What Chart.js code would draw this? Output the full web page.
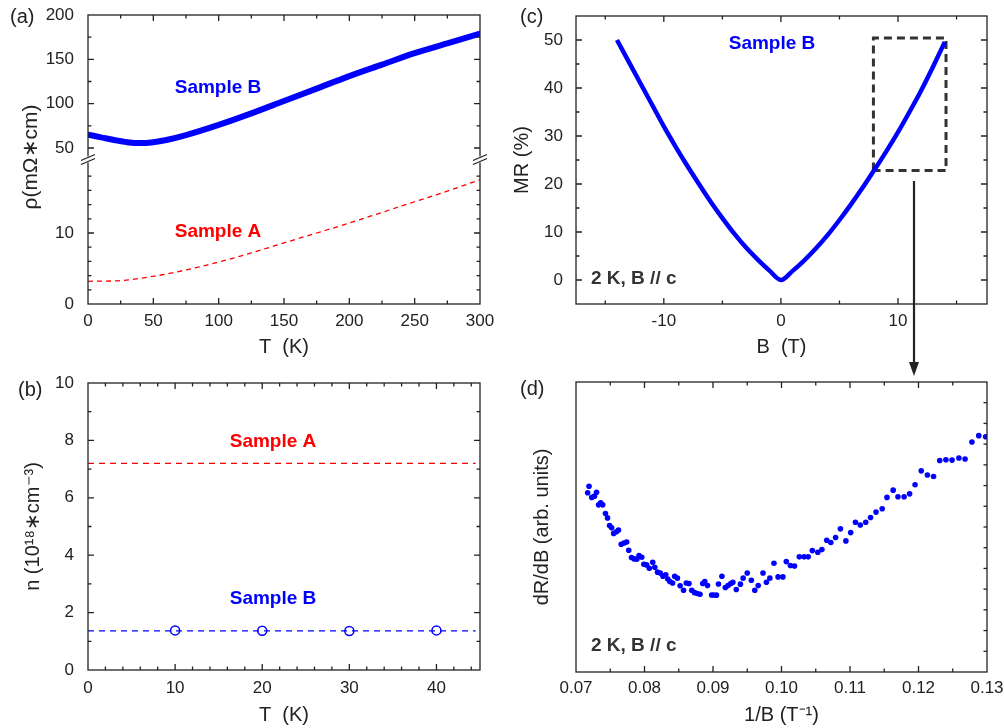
<!DOCTYPE html>
<html>
<head>
<meta charset="utf-8">
<script src="https://cdn.jsdelivr.net/npm/chart.js@4.4.1/dist/chart.umd.min.js"></script>
<style>
  body { margin: 0; background: #fff; }
  #fig { position: relative; width: 1004px; height: 728px; }
  canvas, svg { position: absolute; }
</style>
</head>
<body>
<div id="fig">
  <canvas id="chartA" width="500" height="360" style="left:0;top:0"></canvas>
  <canvas id="chartB" width="500" height="368" style="left:0;top:360px"></canvas>
  <canvas id="chartC" width="504" height="360" style="left:500px;top:0"></canvas>
  <canvas id="chartD" width="504" height="368" style="left:500px;top:360px"></canvas>
  <svg width="1004" height="728" style="left:0;top:0">
    <line x1="914" y1="181" x2="914" y2="364" stroke="#222" stroke-width="2.2"/>
    <polygon points="909,362 919,362 914,376" fill="#222"/>
  </svg>
</div>
<script>
// ==========================
// DATA
// ==========================
// (a) resistivity vs T
const tempA = [0, 25, 50, 75, 100, 125, 150, 175, 200, 225, 250, 275, 300];
const rhoA = [3.2, 3.3, 3.9, 4.8, 5.9, 7.2, 8.6, 10.0, 11.4, 12.9, 14.4, 15.9, 17.5];
const tempB = [0, 10, 20, 30, 40, 50, 60, 75, 100, 125, 150, 175, 200, 225, 250, 275, 300];
const rhoB = [65, 62, 59, 56.5, 55.5, 56.5, 59, 64.5, 76, 89, 103, 117, 131, 144, 157, 168, 179];

// (b) carrier density
const densT = [0, 44.5];
const densA = [7.2, 7.2];
const densB = [1.36, 1.36];
const hallT = [10, 20, 30, 40];
const hallB = [1.38, 1.37, 1.36, 1.38];

// (c) magnetoresistance
const fieldB = [-14, -13, -12, -11, -10, -9, -8, -7, -6, -5, -4, -3, -2, -1, 0,
  1, 2, 3, 4, 5, 6, 7, 8, 9, 10, 11, 12, 13, 14];
const mr = [50, 45.5, 41, 36.5, 32, 27.8, 23.8, 20, 16.3, 12.9, 9.7, 6.8, 4.3, 2.0, 0,
  1.9, 4.1, 6.6, 9.4, 12.5, 15.8, 19.3, 23, 26.8, 30.8, 35.1, 39.6, 44.5, 49.6];
const boxB = [7.9, 7.9, 14.1, 14.1, 7.9];
const boxMR = [22.8, 50.4, 50.4, 22.8, 22.8];

// (d) dR/dB vs 1/B
const invB = [0.0717, 0.0719, 0.0723, 0.0727, 0.0730, 0.0733, 0.0736, 0.0739, 0.0743, 0.0746,
  0.0749, 0.0752, 0.0755, 0.0759, 0.0762, 0.0766, 0.0770, 0.0774, 0.0777, 0.0781,
  0.0785, 0.0789, 0.0792, 0.0796, 0.0799, 0.0803, 0.0807, 0.0812, 0.0815, 0.0819,
  0.0823, 0.0827, 0.0831, 0.0834, 0.0837, 0.0841, 0.0844, 0.0848, 0.0852, 0.0857,
  0.0861, 0.0865, 0.0869, 0.0873, 0.0877, 0.0881, 0.0885, 0.0888, 0.0892, 0.0898,
  0.0901, 0.0905, 0.0908, 0.0913, 0.0918, 0.0922, 0.0926, 0.0929, 0.0934, 0.0940,
  0.0944, 0.0950, 0.0956, 0.0961, 0.0966, 0.0973, 0.0978, 0.0983, 0.0989, 0.0995,
  0.1002, 0.1007, 0.1013, 0.1019, 0.1026, 0.1033, 0.1039, 0.1045, 0.1053, 0.1059,
  0.1066, 0.1072, 0.1079, 0.1086, 0.1094, 0.1101, 0.1108, 0.1115, 0.1123, 0.1130,
  0.1138, 0.1147, 0.1154, 0.1163, 0.1170, 0.1179, 0.1187, 0.1195, 0.1204, 0.1213,
  0.1222, 0.1231, 0.1240, 0.1249, 0.1259, 0.1268, 0.1278, 0.1288, 0.1298];
const dRdB = [8.65, 8.97, 8.43, 8.49, 8.68, 8.07, 8.17, 8.07, 7.65, 7.44,
  7.07, 6.96, 6.69, 6.77, 6.85, 6.17, 6.23, 6.27, 5.88, 5.53,
  5.46, 5.45, 5.62, 5.54, 5.20, 5.17, 5.01, 5.30, 5.06, 4.82,
  4.78, 4.62, 4.69, 4.49, 4.37, 4.30, 4.62, 4.53, 4.16, 3.95,
  4.30, 4.27, 3.95, 3.83, 3.79, 3.75, 4.27, 4.37, 4.17, 3.72,
  3.72, 3.71, 4.25, 4.62, 4.08, 4.17, 4.27, 4.33, 3.98, 4.24,
  4.53, 4.78, 4.43, 3.95, 4.17, 4.78, 4.33, 4.53, 5.25, 4.59,
  4.59, 5.33, 5.14, 5.12, 5.56, 5.56, 5.56, 5.86, 5.78, 5.91,
  6.36, 6.25, 6.49, 6.91, 6.33, 6.73, 7.23, 7.10, 7.23, 7.46,
  7.72, 7.88, 8.43, 8.78, 8.46, 8.46, 8.60, 9.04, 9.71, 9.51,
  9.44, 10.21, 10.25, 10.23, 10.33, 10.28, 11.10, 11.41, 11.36];

// ==========================
// HELPER
// ==========================
const FONT = "'Liberation Sans', Arial, sans-serif";
const BLUE = "#0000ff";
const RED = "#ff0000";
const INK = "#222";

Chart.defaults.font.family = FONT;
Chart.defaults.font.size = 17;
Chart.defaults.color = INK;
Chart.defaults.animation = false;
Chart.defaults.plugins.legend.display = false;
Chart.defaults.plugins.tooltip.enabled = false;

const pts = (xs, ys) => xs.map((x, i) => ({ x, y: ys[i] }));

function axis(opts) {
  const { min, max, step, label, pad, size, side, title, titlePad } = opts;
  const horiz = side === "x";
  return {
    type: "linear",
    position: horiz ? "bottom" : "left",
    min, max,
    grid: { display: false, drawTicks: false },
    border: { display: false },
    ticks: {
      stepSize: step,
      autoSkip: false,
      includeBounds: false,
      maxRotation: 0,
      padding: pad,
      callback: label,
    },
    title: title
      ? { display: true, text: title, font: { size: 20 }, padding: horiz ? { top: 0, bottom: titlePad } : { top: titlePad, bottom: 0 } }
      : { display: false },
    afterFit: s => {
      if (horiz) s.height = size; else s.width = size;
      // layout padding alone decides the plot box
      s.paddingTop = 0; s.paddingBottom = 0; s.paddingLeft = 0; s.paddingRight = 0;
    },
  };
}

// frame, inward ticks, axis break and free text
const framePlugin = {
  id: "frame",
  afterDraw(chart, args, opts) {
    const { ctx, chartArea: a } = chart;
    ctx.save();
    ctx.strokeStyle = INK;
    ctx.lineWidth = 1.3;
    ctx.strokeRect(a.left, a.top, a.right - a.left, a.bottom - a.top);

    Object.values(chart.scales).forEach(s => {
      const horiz = s.isHorizontal();
      const lo = horiz ? s.left : s.top;
      const hi = horiz ? s.right : s.bottom;
      s.ticks.forEach(t => {
        const p = s.getPixelForValue(t.value);
        if (p < lo + 4 || p > hi - 4) return;
        const len = t.label === "" ? 3.5 : 6;
        ctx.beginPath();
        if (horiz) {
          ctx.moveTo(p, a.bottom); ctx.lineTo(p, a.bottom - len);
          ctx.moveTo(p, a.top); ctx.lineTo(p, a.top + len);
        } else {
          if (!opts.noLeftTicks) { ctx.moveTo(a.left, p); ctx.lineTo(a.left + len, p); }
          ctx.moveTo(a.right, p); ctx.lineTo(a.right - len, p);
        }
        ctx.stroke();
      });
    });

    if (opts.breakScale) {
      const y = chart.scales[opts.breakScale].top;
      [a.left, a.right].forEach(x => {
        ctx.fillStyle = "#fff";
        ctx.fillRect(x - 2, y - 3, 4, 6);
        ctx.beginPath();
        ctx.moveTo(x - 7, y + 1); ctx.lineTo(x + 7, y - 5);
        ctx.moveTo(x - 7, y + 5); ctx.lineTo(x + 7, y - 1);
        ctx.stroke();
      });
    }

    (opts.texts || []).forEach(t => {
      ctx.save();
      ctx.font = t.font;
      ctx.fillStyle = t.color || INK;
      ctx.textAlign = t.align || "center";
      ctx.textBaseline = "middle";
      ctx.translate(t.x, t.y);
      if (t.rotate) ctx.rotate(t.rotate);
      ctx.fillText(t.text, 0, 0);
      ctx.restore();
    });
    ctx.restore();
  },
};

const bold = `bold 19px ${FONT}`;
const plain = `20px ${FONT}`;

// ==========================
// (a) RESISTIVITY
// ==========================
const axA = axis({ side: "x", min: 0, max: 300, step: 25, pad: 7, size: 56, title: "T  (K)", titlePad: 1,
  label: v => v % 50 === 0 ? v : "" });
const yLow = axis({ side: "y", min: 0, max: 20.35, step: 2, pad: 14, size: 88,
  label: v => (v === 0 || v === 10) ? v : "" });
const yHigh = axis({ side: "y", min: 37, max: 200, step: 25, pad: 14, size: 88,
  label: v => v % 50 === 0 ? v : "" });
yLow.stack = "rho"; yLow.stackWeight = 1;
yHigh.stack = "rho"; yHigh.stackWeight = 1;

new Chart(document.getElementById("chartA"), {
  type: "scatter",
  data: {
    datasets: [
      { data: pts(tempB, rhoB), yAxisID: "yHigh", showLine: true, borderColor: BLUE, borderWidth: 6,
        borderCapStyle: "round", pointRadius: 0, cubicInterpolationMode: "monotone" },
      { data: pts(tempA, rhoA), yAxisID: "yLow", showLine: true, borderColor: RED, borderWidth: 1.3,
        borderDash: [5, 4], pointRadius: 0, cubicInterpolationMode: "monotone" },
    ],
  },
  options: {
    responsive: false,
    layout: { padding: { top: 15, right: 20, left: 0, bottom: 0 } },
    // later scale in the stack is placed on top
    scales: { x: axA, yLow: yLow, yHigh: yHigh },
    plugins: {
      frame: {
        breakScale: "yLow",
        texts: [
          { text: "Sample B", x: 218, y: 88, color: BLUE, font: bold },
          { text: "Sample A", x: 218, y: 232, color: RED, font: bold },
          { text: "(a)", x: 10, y: 17, font: plain, align: "left" },
          { text: "ρ(mΩ∗cm)", x: 31, y: 157, font: `21px ${FONT}`, rotate: -Math.PI / 2 },
        ],
      },
    },
  },
  plugins: [framePlugin],
});

// ==========================
// (b) CARRIER DENSITY
// ==========================
new Chart(document.getElementById("chartB"), {
  type: "scatter",
  data: {
    datasets: [
      { data: pts(densT, densA), showLine: true, borderColor: RED, borderWidth: 1.3, borderDash: [6, 5], pointRadius: 0 },
      { data: pts(densT, densB), showLine: true, borderColor: BLUE, borderWidth: 1.3, borderDash: [6, 5], pointRadius: 0 },
      { data: pts(hallT, hallB), showLine: false, pointRadius: 4.5, pointBorderWidth: 1.5,
        borderColor: BLUE, backgroundColor: "rgba(255,255,255,0)" },
    ],
  },
  options: {
    responsive: false,
    layout: { padding: { top: 23, right: 20, left: 0, bottom: 0 } },
    scales: {
      x: axis({ side: "x", min: 0, max: 45, step: 2, pad: 8, size: 58, title: "T  (K)", titlePad: 1,
        label: v => v % 10 === 0 ? v : "" }),
      y: axis({ side: "y", min: 0, max: 10, step: 1, pad: 14, size: 88, title: "n (10¹⁸∗cm⁻³)", titlePad: 21,
        label: v => v % 2 === 0 ? v : "" }),
    },
    plugins: {
      frame: {
        texts: [
          { text: "Sample A", x: 273, y: 82, color: RED, font: bold },
          { text: "Sample B", x: 273, y: 239, color: BLUE, font: bold },
          { text: "(b)", x: 18, y: 30, font: plain, align: "left" },
        ],
      },
    },
  },
  plugins: [framePlugin],
});

// ==========================
// (c) MAGNETORESISTANCE
// ==========================
new Chart(document.getElementById("chartC"), {
  type: "scatter",
  data: {
    datasets: [
      { data: pts(fieldB, mr), showLine: true, borderColor: BLUE, borderWidth: 4.5, pointRadius: 0,
        borderJoinStyle: "round", cubicInterpolationMode: "monotone" },
      { data: pts(boxB, boxMR), showLine: true, borderColor: "#333", borderWidth: 3, borderDash: [8, 5], pointRadius: 0 },
    ],
  },
  options: {
    responsive: false,
    layout: { padding: { top: 16, right: 17, left: 0, bottom: 0 } },
    scales: {
      x: axis({ side: "x", min: -17.5, max: 17.6, step: 5, pad: 7, size: 56, title: "B  (T)", titlePad: 1,
        label: v => v % 10 === 0 ? v : "" }),
      y: axis({ side: "y", min: -5, max: 55, step: 5, pad: 13, size: 76, title: "MR (%)", titlePad: 10,
        label: v => v % 10 === 0 ? v : "" }),
    },
    plugins: {
      frame: {
        texts: [
          { text: "Sample B", x: 272, y: 44, color: BLUE, font: bold },
          { text: "2 K, B // c", x: 91, y: 279, color: "#333", font: bold, align: "left" },
          { text: "(c)", x: 20, y: 17, font: plain, align: "left" },
        ],
      },
    },
  },
  plugins: [framePlugin],
});

// ==========================
// (d) dR/dB vs 1/B
// ==========================
new Chart(document.getElementById("chartD"), {
  type: "scatter",
  data: {
    datasets: [
      { data: pts(invB, dRdB), pointRadius: 2.8, pointBorderWidth: 0, backgroundColor: BLUE, borderColor: BLUE },
    ],
  },
  options: {
    responsive: false,
    layout: { padding: { top: 22, right: 17, left: 0, bottom: 0 } },
    scales: {
      x: axis({ side: "x", min: 0.07, max: 0.13, step: 0.005, pad: 6, size: 56, title: "1/B (T⁻¹)", titlePad: 1,
        label: v => Math.round(v * 1000) % 10 === 0 ? v.toFixed(2) : "" }),
      y: axis({ side: "y", min: 0, max: 14, step: 1, pad: 0, size: 76, title: "dR/dB (arb. units)", titlePad: 30,
        label: () => "" }),
    },
    plugins: {
      frame: {
        noLeftTicks: true,
        texts: [
          { text: "2 K, B // c", x: 91, y: 286, color: "#333", font: bold, align: "left" },
          { text: "(d)", x: 20, y: 29, font: plain, align: "left" },
        ],
      },
    },
  },
  plugins: [framePlugin],
});
</script>
</body>
</html>
